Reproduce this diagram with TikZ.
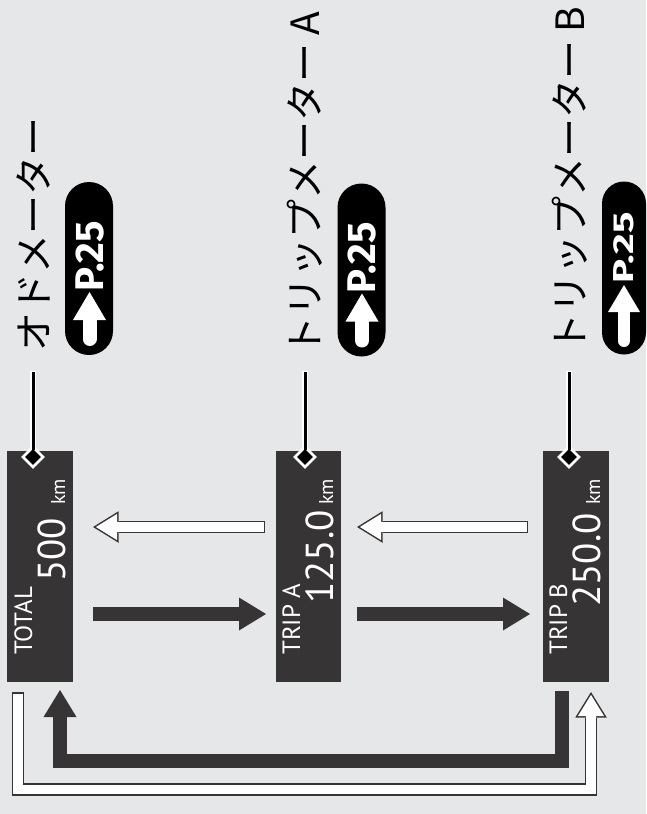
\documentclass[tikz,border=0pt]{standalone}
\usepackage{fontspec}
\setmainfont{Fira Sans}
\newfontfamily\jpfont{Noto Sans CJK JP}
\newfontfamily\lightfont{PT Sans}
\usetikzlibrary{arrows.meta,calc,shapes.geometric}
\definecolor{bggray}{HTML}{E6E7E8}
\definecolor{meterdark}{HTML}{373435}
\tikzset{
  meterbox/.style={fill=meterdark, minimum width=66pt, minimum height=231pt, inner sep=0pt, outer sep=0pt},
  smalltext/.style={rotate=90, anchor=base west, inner sep=0pt, text=white, font=\lightfont\fontsize{25}{25}\selectfont},
  bigtext/.style={rotate=90, anchor=base east, inner sep=0pt, text=white, font=\lightfont\fontsize{39}{39}\selectfont},
  unittext/.style={rotate=90, anchor=base west, inner sep=0pt, text=white, font=\lightfont\fontsize{20}{20}\selectfont},
  jplabel/.style={rotate=90, anchor=west, inner sep=0pt, font=\jpfont\fontsize{39}{39}\selectfont},
  pill/.style={fill=black, rotate=90, rounded corners=24pt, minimum width=173pt, minimum height=48pt, inner sep=0pt},
  pagetext/.style={rotate=90, anchor=base west, inner sep=0pt, text=white, font=\bfseries\fontsize{40}{40}\selectfont},
  pagearrow/.style={draw=white, line width=14pt, line cap=round, -{Triangle[length=28pt,width=33pt,line width=0pt]}},
  meterdot/.style={diamond, fill=black, draw=white, line width=2.5pt, minimum size=20pt, inner sep=0pt, outer sep=0pt},
  leader/.style={draw=black, line width=3pt, shorten <=-3pt, preaction={draw=white, line width=6pt, shorten <=0pt, shorten >=-1.5pt}},
  solidarrow/.style={draw=meterdark, line width=14pt, line join=miter, -{Triangle[length=27pt,width=33pt,line width=0pt]}},
  hollowarrow/.style={draw=white, line width=9.5pt, line join=miter, shorten <=1.5pt, shorten >=2.9pt,
    -{Triangle[length=21.1pt,width=26.1pt,line width=0pt]},
    preaction={draw=meterdark, line width=12.5pt, shorten <=0pt, shorten >=0pt, -{Triangle[length=25.5pt,width=31.5pt,line width=0pt]}}}
}
\begin{document}
\begin{tikzpicture}[x=1pt,y=-1pt]
  \useasboundingbox[fill=bggray] (0,0) rectangle (646,814);

  % meters
  \node[meterbox] (odo) at (40,566.5) {};
  \node[meterbox, minimum width=65pt] (tripa) at (308.5,566.5) {};
  \node[meterbox] (tripb) at (576,566.5) {};

  \node[smalltext] (odoname) at (32,655) {TOTAL};
  \node[bigtext] (odoval) at (65,518) {500};
  \node[unittext] (odounit) at (65,505) {km};
  \node[smalltext] (tripaname) at (300,655) {TRIP A};
  \node[bigtext] (tripaval) at (333,510) {125.0};
  \node[unittext] (tripaunit) at (333,505) {km};
  \node[smalltext] (tripbname) at (567,655) {TRIP B};
  \node[bigtext] (tripbval) at (600,513) {250.0};
  \node[unittext] (tripbunit) at (600,505) {km};

  % labels
  \node[jplabel] (odolab) at (33,352) {オドメーター};
  \node[jplabel] (tripalab) at (305,356) {トリップメーター A};
  \node[jplabel] (tripblab) at (569.5,353) {トリップメーター B};

  \node[meterdot] (ododot) at (33,457) {};
  \node[meterdot] (tripadot) at (305,457) {};
  \node[meterdot] (tripbdot) at (569,457) {};
  \draw[leader] (ododot.north) -- ++(0,-75);
  \draw[leader] (tripadot.north) -- ++(0,-75);
  \draw[leader] (tripbdot.north) -- ++(0,-75);

  % page refs
  \node[pill] (odopill) at (89,268.5) {};
  \node[pill] (tripapill) at (361.5,270) {};
  \foreach \p in {odopill,tripapill}{
    \draw[pagearrow] ($(\p)+(0.5,70.5)$) -- ($(\p)+(0.5,23.5)$);
    \node[pagetext] (\p-ref) at ($(\p)+(14,23.5)$) {P.25};
  }
  \node[pill, minimum height=44pt, rounded corners=22pt] (tripbpill) at (624,268) {};
  \draw[pagearrow, line width=12pt, -{Triangle[length=27pt,width=32pt,line width=0pt]}]
    ($(tripbpill)+(0,73)$) -- ($(tripbpill)+(0,17)$);
  \node[pagetext, yscale=0.72] (tripbpill-ref) at ($(tripbpill)+(9,15.5)$) {P.25};

  % arrows
  \draw[solidarrow] ($(odo.east)+(20,47.5)$) -- ($(tripa.west)+(-10,47.5)$);
  \draw[solidarrow] ($(tripa.east)+(16,47.5)$) -- ($(tripb.west)+(-13,47.5)$);
  \draw[hollowarrow] ($(tripa.west)+(-11,-39.5)$) -- ($(odo.east)+(20,-39.5)$);
  \draw[hollowarrow] ($(tripb.west)+(-15,-39.5)$) -- ($(tripa.east)+(16,-39.5)$);
  \draw[solidarrow] ($(tripb.south)+(-14,9)$) -- ++(0,70) -| ($(odo.south)+(20,8)$);
  \draw[hollowarrow] ($(odo.south)+(-22,10)$) -- ++(0,97.5) -| ($(tripb.south)+(15,10)$);
\end{tikzpicture}
\end{document}
